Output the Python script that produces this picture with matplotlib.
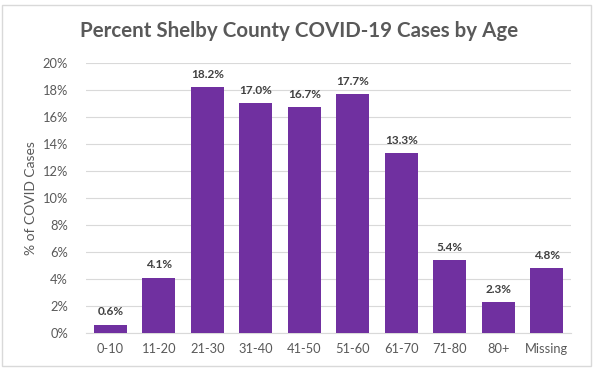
import matplotlib.pyplot as plt
from matplotlib.patches import Rectangle

plt.rcParams['font.family'] = ['Lato', 'DejaVu Sans']

ages = ['0-10', '11-20', '21-30', '31-40', '41-50', '51-60', '61-70', '71-80', '80+', 'Missing']
pct = [0.6, 4.1, 18.2, 17.0, 16.7, 17.7, 13.3, 5.4, 2.3, 4.8]
yticks = [0, 2, 4, 6, 8, 10, 12, 14, 16, 18, 20]

fig = plt.figure(figsize=(5.98, 3.70), dpi=100)
ax = fig.add_axes([0.144, 0.1, 0.811, 0.73])

# outer border like the excel chart frame
fig.patches.append(Rectangle((0.004, 0.012), 0.985, 0.975, transform=fig.transFigure,
                             fill=False, edgecolor='#d9d9d9', linewidth=1))

x = range(len(ages))
ax.bar(x, pct, width=0.68, color='#7030a0', zorder=3)
for i, v in zip(x, pct):
    ax.text(i, v + 0.55, f'{v:.1f}%', ha='center', va='bottom', fontsize=8.5,
            fontweight='bold', color='#404040')

ax.set_xlim(-0.5, len(ages) - 0.5)
ax.set_ylim(0, 20)
ax.set_yticks(yticks)
ax.set_yticklabels([f'{t}%' for t in yticks])
ax.set_xticks(list(x))
ax.set_xticklabels(ages)
ax.tick_params(axis='both', length=0, labelsize=9.3, labelcolor='#595959')
ax.tick_params(axis='y', pad=13)
ax.tick_params(axis='x', pad=7)
ax.grid(axis='y', color='#d9d9d9', linewidth=0.8, zorder=0)
for s in ['top', 'right', 'left']:
    ax.spines[s].set_visible(False)
ax.spines['bottom'].set_color('#d9d9d9')

ax.set_ylabel('% of COVID Cases', fontsize=10, color='#595959', labelpad=4)
fig.text(0.5, 0.915, 'Percent Shelby County COVID-19 Cases by Age', ha='center', va='center',
         fontsize=14.8, fontweight='bold', color='#595959')

fig.savefig('out.png', dpi=100)
